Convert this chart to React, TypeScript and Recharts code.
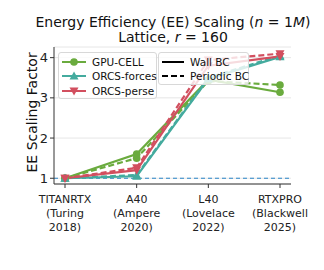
import { LineChart, Line, XAxis, YAxis, CartesianGrid, ReferenceLine } from "recharts";

const gpus = ["TITANRTX", "A40", "L40", "RTXPRO"];
const archs = ["(Turing", "(Ampere", "(Lovelace", "(Blackwell"];
const years = ["2018)", "2020)", "2022)", "2025)"];

const gpuCellWall = [1, 1.6, 3.45, 3.14];
const gpuCellPeriodic = [1, 1.5, 3.42, 3.32];
const orcsForcesWall = [1, 1.05, 3.47, 4.02];
const orcsForcesPeriodic = [1, 1.08, 3.5, 4.05];
const orcsPerseWall = [1, 1.2, 3.8, 4.03];
const orcsPersePeriodic = [1, 1.26, 3.94, 4.1];

const methods = ["GPU-CELL", "ORCS-forces", "ORCS-perse"];
const bcs = ["Wall BC", "Periodic BC"];
const yTicks = [1, 2, 3, 4];

const GREEN = "#6aab3e";
const TEAL = "#44ab9e";
const RED = "#d24f5f";
const colors = [GREEN, TEAL, RED];

const data = gpus.map((g, i) => ({
  gpu: g,
  cellW: gpuCellWall[i],
  cellP: gpuCellPeriodic[i],
  forcesW: orcsForcesWall[i],
  forcesP: orcsForcesPeriodic[i],
  perseW: orcsPerseWall[i],
  perseP: orcsPersePeriodic[i],
}));

const font = "DejaVu Sans, sans-serif";

const triUp = (cx: number, cy: number, fill: string) => (
  <path d={`M${cx},${cy - 4.5} L${cx + 4.5},${cy + 3.5} L${cx - 4.5},${cy + 3.5} Z`} fill={fill} />
);
const triDown = (cx: number, cy: number, fill: string) => (
  <path d={`M${cx},${cy + 4.5} L${cx + 4.5},${cy - 3.5} L${cx - 4.5},${cy - 3.5} Z`} fill={fill} />
);
const dot = (cx: number, cy: number, fill: string) => <circle cx={cx} cy={cy} r={3.8} fill={fill} />;
const markers = [dot, triUp, triDown];

const XTick = (props: any) => {
  const { x, y, payload } = props;
  const i = payload.index;
  return (
    <text x={x} y={y + 13} textAnchor="middle" fontSize={11} fontFamily={font} fill="#222">
      <tspan x={x} dy={0}>{gpus[i]}</tspan>
      <tspan x={x} dy={14}>{archs[i]}</tspan>
      <tspan x={x} dy={14}>{years[i]}</tspan>
    </text>
  );
};

const series = [
  { key: "cellW", c: 0, dash: undefined },
  { key: "cellP", c: 0, dash: "6 3" },
  { key: "forcesW", c: 1, dash: undefined },
  { key: "forcesP", c: 1, dash: "6 3" },
  { key: "perseW", c: 2, dash: undefined },
  { key: "perseP", c: 2, dash: "6 3" },
];

const App = () => {
  return (
    <div style={{ position: "absolute", left: 0, top: 0, width: 324, height: 270, fontFamily: font, background: "#fff" }}>
      <LineChart width={324} height={270} data={data} margin={{ top: 47, right: 33, bottom: 56, left: 0 }}>
        <CartesianGrid vertical={false} stroke="#e6e6e6" />
        <XAxis
          dataKey="gpu"
          interval={0}
          padding={{ left: 11, right: 11 }}
          tick={<XTick />}
          tickLine={{ stroke: "#333" }}
          axisLine={{ stroke: "#333" }}
          tickSize={4}
        />
        <XAxis xAxisId="top" orientation="top" dataKey="gpu" tick={false} tickLine={false} axisLine={{ stroke: "#333" }} height={0} />
        <YAxis
          domain={[0.857, 4.265]}
          ticks={yTicks}
          type="number"
          width={54}
          tick={{ fontSize: 13, fontFamily: font, fill: "#222" }}
          tickLine={{ stroke: "#333" }}
          axisLine={{ stroke: "#333" }}
          tickSize={4}
          label={{ value: "EE Scaling Factor", angle: -90, position: "insideLeft", dx: 27, dy: 57, style: { fontSize: 14, fontFamily: font, fill: "#111" } }}
        />
        <YAxis yAxisId="right" orientation="right" tick={false} tickLine={false} axisLine={{ stroke: "#333" }} width={0} />
        <ReferenceLine y={1} stroke="#2a85c8" strokeDasharray="4 3" strokeWidth={1.2} />
        {series.map((s) => (
          <Line
            key={s.key}
            dataKey={s.key}
            stroke={colors[s.c]}
            strokeWidth={2.2}
            strokeDasharray={s.dash}
            dot={(p: any) => <g key={`${s.key}-${p.index}`}>{markers[s.c](p.cx, p.cy, colors[s.c])}</g>}
            activeDot={false}
            isAnimationActive={false}
          />
        ))}
      </LineChart>

      <div style={{ position: "absolute", left: 0, width: 346, top: 15, textAlign: "center", fontSize: 14, lineHeight: "15px", color: "#111", whiteSpace: "nowrap" }}>
        <div>
          Energy Efficiency (EE) Scaling (<i>n</i> = 1<i>M</i>)
        </div>
        <div>
          Lattice, <i>r</i> = 160
        </div>
      </div>

      <div
        style={{
          position: "absolute",
          left: 58,
          top: 52,
          width: 97,
          height: 45,
          background: "rgba(255,255,255,0.8)",
          border: "1px solid #d8d8d8",
          borderRadius: 3,
          fontSize: 10.5,
          color: "#111",
          whiteSpace: "nowrap",
        }}
      >
        {methods.map((m, i) => (
          <div key={m} style={{ position: "absolute", left: 2, top: 2 + i * 14.3, height: 14, display: "flex", alignItems: "center" }}>
            <svg width={26} height={12}>
              <line x1={1} x2={25} y1={6} y2={6} stroke={colors[i]} strokeWidth={2} />
              {markers[i](13, 6, colors[i])}
            </svg>
            <span style={{ marginLeft: 5 }}>{m}</span>
          </div>
        ))}
      </div>

      <div
        style={{
          position: "absolute",
          left: 158,
          top: 52,
          width: 89,
          height: 31,
          background: "rgba(255,255,255,0.8)",
          border: "1px solid #d8d8d8",
          borderRadius: 3,
          fontSize: 10.5,
          color: "#111",
          whiteSpace: "nowrap",
        }}
      >
        {bcs.map((b, i) => (
          <div key={b} style={{ position: "absolute", left: 2, top: 2 + i * 14.3, height: 14, display: "flex", alignItems: "center" }}>
            <svg width={24} height={12}>
              <line x1={1} x2={23} y1={6} y2={6} stroke="#000" strokeWidth={2} strokeDasharray={i === 1 ? "6 3" : undefined} />
            </svg>
            <span style={{ marginLeft: 5 }}>{b}</span>
          </div>
        ))}
      </div>
    </div>
  );
};

export default App;
